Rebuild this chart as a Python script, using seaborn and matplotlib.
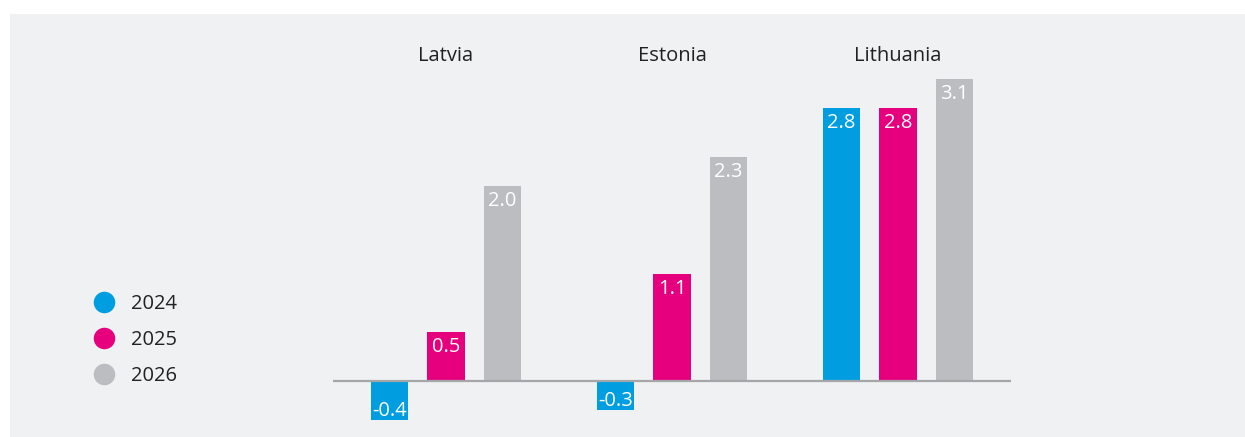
"""Baltic GDP growth forecast bars, 2024-2026."""

import matplotlib
matplotlib.use("Agg")
import matplotlib.pyplot as plt
from matplotlib.lines import Line2D
from matplotlib.patches import Rectangle
import pandas as pd
import seaborn as sns

COUNTRIES = ["Latvia", "Estonia", "Lithuania"]
YEARS = ["2024", "2025", "2026"]
VALUES_2024 = [-0.4, -0.3, 2.8]
VALUES_2025 = [0.5, 1.1, 2.8]
VALUES_2026 = [2.0, 2.3, 3.1]

COLORS = {"2024": "#009EE0", "2025": "#E6007E", "2026": "#BCBDC0"}
PANEL = "#F0F1F3"
INK = "#222222"

sns.set_theme(style="white")
plt.rcParams["font.family"] = ["Open Sans", "DejaVu Sans"]

df = pd.DataFrame({
    "country": COUNTRIES * 3,
    "year": [y for y in YEARS for _ in COUNTRIES],
    "value": VALUES_2024 + VALUES_2025 + VALUES_2026,
})

fig = plt.figure(figsize=(12.45, 4.37), dpi=100)
fig.patch.set_facecolor("white")
fig.patches.append(Rectangle((10 / 1245, 0), 1 - 10 / 1245, 423 / 437,
                             transform=fig.transFigure, facecolor=PANEL,
                             edgecolor="none", zorder=-5))

ax = fig.add_axes([333 / 1245, 0.0055, (1011 - 333) / 1245, 0.903])
ax.set_facecolor("none")
ax.set_zorder(2)

sns.barplot(data=df, x="country", y="value", hue="year", palette=COLORS,
            order=COUNTRIES, hue_order=YEARS, width=0.75, gap=0.33,
            saturation=1, linewidth=0, legend=False, ax=ax)

# labels sit inside the bar end, white text
for container in ax.containers:
    vals = container.datavalues
    ax.bar_label(container, labels=[f"{v:.1f}" if v >= 0 else "" for v in vals],
                 padding=-18, color="white", fontsize=14.5)
    ax.bar_label(container, labels=[f"{v:.1f}" if v < 0 else "" for v in vals],
                 padding=-13.5, color="white", fontsize=14.5)

ax.axhline(0, color="#A5A6A8", lw=1.6, zorder=3)

for i, name in enumerate(COUNTRIES):
    ax.text(i, 3.34, name, ha="center", va="center", fontsize=14.5, color=INK)

ax.set_xlim(-0.5, 2.5)
ax.set_ylim(-0.55, 3.5)
ax.set_xlabel("")
ax.set_ylabel("")
ax.set_xticks([])
ax.set_yticks([])
sns.despine(ax=ax, left=True, bottom=True)

handles = [Line2D([0], [0], marker="o", linestyle="", markersize=15.5,
                  markerfacecolor=COLORS[y], markeredgecolor="none") for y in YEARS]
fig.legend(handles, YEARS, loc="center left", bbox_to_anchor=(66 / 1245, 1 - 340 / 437),
           frameon=False, fontsize=14.5, labelspacing=0.8, handletextpad=0.35,
           labelcolor=INK)

fig.savefig("out.png", dpi=100, facecolor="white")
